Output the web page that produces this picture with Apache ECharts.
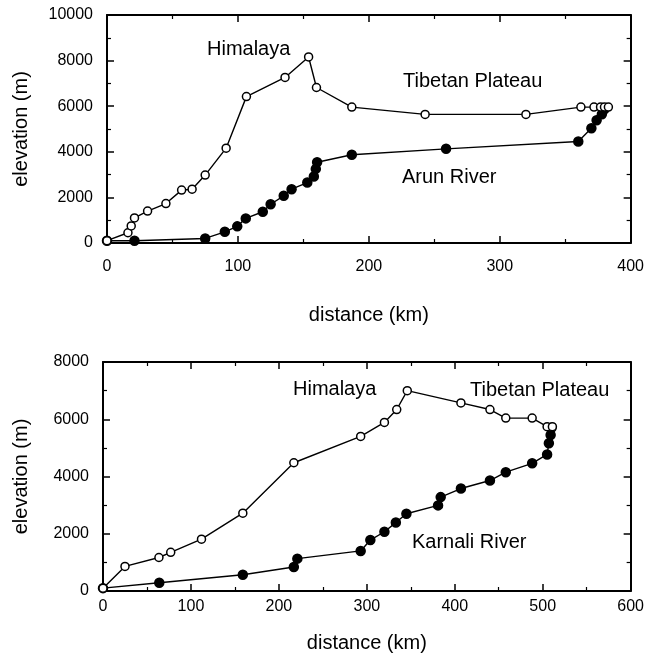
<!DOCTYPE html>
<html><head><meta charset="utf-8">
<script src="https://cdn.jsdelivr.net/npm/echarts@6/dist/echarts.min.js"></script>
<style>html,body{margin:0;padding:0;background:#fff}#c{width:647px;height:659px}</style>
</head><body><div id="c"></div>
<script>
// Arun (top panel)
const arunHimKm   = [0, 16, 18.5, 21, 31, 45, 57, 65, 75, 91, 106.5, 136, 154, 160, 187, 243, 320, 362, 372, 377, 380, 383];
const arunHimElev = [100, 450, 750, 1100, 1400, 1730, 2320, 2360, 2980, 4160, 6420, 7260, 8160, 6820, 5960, 5640, 5640, 5960, 5960, 5960, 5960, 5960];
const arunRivKm   = [0, 21, 75, 90, 99.5, 106, 119, 125, 135, 141, 153, 158, 159.5, 160.5, 187, 259, 360, 370, 374, 378, 380];
const arunRivElev = [100, 100, 200, 490, 730, 1080, 1370, 1700, 2070, 2360, 2650, 2920, 3250, 3540, 3870, 4130, 4450, 5030, 5380, 5650, 5870];
// Karnali (bottom panel)
const karHimKm    = [0, 25, 63.6, 77, 112, 159, 217, 293, 320, 334, 346, 407, 440, 458, 488, 505, 511];
const karHimElev  = [100, 860, 1170, 1350, 1810, 2720, 4480, 5400, 5890, 6340, 7000, 6570, 6340, 6040, 6040, 5740, 5740];
const karRivKm    = [0, 64, 159, 217, 221, 293, 304, 320, 333, 345, 381, 384, 407, 440, 458, 488, 505, 507, 509, 510];
const karRivElev  = [100, 290, 570, 840, 1130, 1400, 1780, 2070, 2390, 2700, 2990, 3280, 3580, 3860, 4150, 4460, 4770, 5160, 5450, 5700];

const topX = {min: 0, max: 400, interval: 100};
const topY = {min: 0, max: 10000, interval: 2000};
const botX = {min: 0, max: 600, interval: 100};
const botY = {min: 0, max: 8000, interval: 2000};

const FONT = 'Liberation Sans, Arial, Helvetica, sans-serif';
const pairs = (xs, ys) => xs.map((x, i) => [x, ys[i]]);

function axis(kind, gridIndex, sc, pos, showLabels, name, nameGap, labelMargin) {
  return {
    type: 'value', gridIndex, position: pos,
    min: sc.min, max: sc.max, interval: sc.interval,
    name: name || '', nameLocation: 'middle', nameGap: nameGap || 0,
    nameRotate: kind === 'y' ? 90 : 0,
    nameTextStyle: {fontFamily: FONT, fontSize: 20, color: '#000'},
    axisLine: {show: true, onZero: false, lineStyle: {color: '#000', width: 2}},
    axisTick: {show: true, inside: true, length: 7, lineStyle: {color: '#000', width: 1.5}},
    minorTick: {show: true, splitNumber: 2, length: 4, lineStyle: {color: '#000', width: 1.2}},
    axisLabel: {show: showLabels, margin: labelMargin || 8, fontFamily: FONT, fontSize: 16, color: '#000',
                formatter: v => String(v)},
    splitLine: {show: false}
  };
}

function series(xi, data, filled) {
  return {
    type: 'line', xAxisIndex: xi, yAxisIndex: xi, data,
    symbol: 'circle', symbolSize: filled ? 9 : 8,
    itemStyle: {color: filled ? '#000' : '#fff', borderColor: '#000', borderWidth: 1.5},
    lineStyle: {color: '#000', width: 1.4},
    z: filled ? 3 : 4, animation: false
  };
}

const chart = echarts.init(document.getElementById('c'), null, {renderer: 'canvas'});
const txt = (x, y, t) => ({type: 'text', left: x, top: y, style: {text: t, font: '20px ' + FONT, fill: '#000'}});

const arunRiv = pairs(arunRivKm, arunRivElev);
arunRiv.push({value: [arunHimKm[arunHimKm.length - 1], arunHimElev[arunHimElev.length - 1]], symbol: 'none'});
const karRiv = pairs(karRivKm, karRivElev);
karRiv.push({value: [karHimKm[karHimKm.length - 1], karHimElev[karHimElev.length - 1]], symbol: 'none'});

chart.setOption({
  backgroundColor: '#fff',
  animation: false,
  grid: [
    {left: 107, top: 15, width: 531, height: 228},
    {left: 103, top: 362, width: 528, height: 229}
  ],
  xAxis: [
    axis('x', 0, topX, 'bottom', true, 'distance (km)', 62, 16),
    axis('x', 1, botX, 'bottom', true, 'distance (km)', 42, 8),
    axis('x', 0, topX, 'top', false),
    axis('x', 1, botX, 'top', false)
  ],
  yAxis: [
    axis('y', 0, topY, 'left', true, 'elevation (m)', 76, 14),
    axis('y', 1, botY, 'left', true, 'elevation (m)', 72, 14),
    axis('y', 0, topY, 'right', false),
    axis('y', 1, botY, 'right', false)
  ],
  series: [
    series(0, arunRiv, true),
    series(0, pairs(arunHimKm, arunHimElev), false),
    series(1, karRiv, true),
    series(1, pairs(karHimKm, karHimElev), false)
  ],
  graphic: [
    txt(207, 39, 'Himalaya'),
    txt(403, 71, 'Tibetan Plateau'),
    txt(402, 167, 'Arun River'),
    txt(293, 379, 'Himalaya'),
    txt(470, 380, 'Tibetan Plateau'),
    txt(412, 532, 'Karnali River')
  ]
});
</script></body></html>
